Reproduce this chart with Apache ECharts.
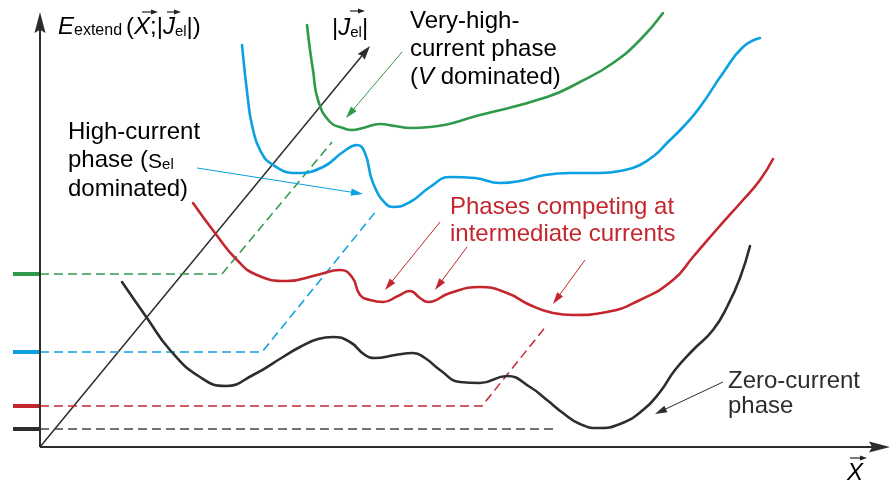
<!DOCTYPE html>
<html><head><meta charset="utf-8">
<script src="https://cdn.jsdelivr.net/npm/echarts@6/dist/echarts.min.js"></script>
<style>html,body{margin:0;padding:0;background:#fff}#c{width:891px;height:484px}</style>
</head><body><div id="c"></div>
<script>
// ---- Data (schematic units: X along the configuration axis, E = energy) ----
const zeroCurrentPhase = [[82,165],[107,129],[130,97],[160,70],[186,61],[213,72],[243,90],[260,100],[278,108],[293,110],[310,105],[325,92],[335,89],[355,92],[373,94],[385,89],[400,77],[420,65],[440,64],[467,71],[490,60],[507,47],[523,34],[540,23],[558,19],[580,23],[603,37],[620,55],[635,77],[653,97],[673,117],[688,142],[700,169],[710,201]];
const competingPhases = [[153,244],[175,214],[197,187],[217,172],[247,166],[277,172],[300,177],[312,170],[320,152],[330,147],[343,145],[358,151],[370,156],[380,149],[388,145],[410,154],[440,160],[467,154],[490,142],[513,134],[533,132],[567,135],[600,147],[633,167],[653,190],[678,219],[703,247],[720,267],[733,288]];
const highCurrentPhase = [[202,402],[208,347],[212,322],[220,297],[233,282],[257,274],[283,280],[303,295],[317,302],[325,294],[333,264],[347,242],[353,240],[370,245],[390,260],[410,270],[435,269],[460,264],[480,266],[505,272],[530,274],[560,274],[585,277],[600,282],[615,292],[627,304],[645,322],[660,340],[683,374],[703,400],[720,409]];
const veryHighCurrentPhase = [[267,422],[270,397],[273,377],[278,347],[290,325],[303,319],[312,317],[323,319],[340,323],[355,321],[370,319],[390,320],[440,332],[507,350],[540,365],[573,384],[600,407],[623,434]];

const greenLevel = [[0,173],[182,173],[292,305]];
const blueLevel  = [[0,95],[222,95],[337,237]];
const redLevel   = [[0,41],[442,41],[507,122]];
const blackLevel = [[0,18],[513,18]];
const levelTicks = { green: [[-27,173],[0,173]], blue: [[-27,95],[0,95]], red: [[-27,41],[0,41]], black: [[-27,18],[0,18]] };

const axisArrows = [[0,0,0,435],[0,0,850,0]];
const currentAxisArrow = [[0,0,330,401]];
const noteArrows = [[362,395,306,329],[157,279,323,253],[400,225,345,157],[427,200,395,157],[545,187,513,143],[683,65,615,33]];
const noteArrowPhase = ['green','blue','red','red','red','black'];

// ---- Styles ----
const C = { green:'#2e9a4a', blue:'#0aa0e2', red:'#c4262e', black:'#2d2d2d' };
const FONT = '"Liberation Sans", Arial, Helvetica, sans-serif';

function arrowRenderer(lw, hl, hw, notch) {
  return function (params, api) {
    const a = api.coord([api.value(0), api.value(1)]);
    const b = api.coord([api.value(2), api.value(3)]);
    const color = api.visual('color');
    const dx = b[0]-a[0], dy = b[1]-a[1], L = Math.hypot(dx, dy);
    const ux = dx/L, uy = dy/L, nx = -uy, ny = ux;
    const bx = b[0]-ux*hl, by = b[1]-uy*hl;
    return { type:'group', children:[
      { type:'line', shape:{x1:a[0], y1:a[1], x2:bx+ux*hl*0.4, y2:by+uy*hl*0.4}, style:{stroke:color, lineWidth:lw} },
      { type:'polygon', shape:{points:[[b[0],b[1]],[bx+nx*hw,by+ny*hw],[bx+ux*hl*notch,by+uy*hl*notch],[bx-nx*hw,by-ny*hw]]}, style:{fill:color} }
    ]};
  };
}

function curve(data, color) {
  return { type:'line', data, smooth:0.5, showSymbol:false, symbol:'none', silent:true,
    lineStyle:{ color, width:2.6, cap:'round' }, z:3 };
}
function dashed(data, color) {
  return { type:'line', data, smooth:false, showSymbol:false, symbol:'none', silent:true,
    lineStyle:{ color, width:1.5, type:[9,5] }, z:2 };
}
function tick(data, color) {
  return { type:'line', data, showSymbol:false, symbol:'none', silent:true,
    lineStyle:{ color, width:4 }, z:2 };
}

function vec(x, y, len) {
  return { type:'group', children:[
    { type:'line', shape:{x1:x, y1:y, x2:x+len-5, y2:y}, style:{stroke:'#222', lineWidth:1.2} },
    { type:'polygon', shape:{points:[[x+len,y],[x+len-7,y-2.6],[x+len-7,y+2.6]]}, style:{fill:'#222'} }
  ]};
}

const n = (col, size, lh) => ({ fontFamily:FONT, fontSize:size, lineHeight:lh, color:col, verticalAlign:'bottom' });
const it = (col, size, lh) => Object.assign(n(col, size, lh), { fontStyle:'italic' });

const chart = echarts.init(document.getElementById('c'), null, { renderer:'canvas' });
chart.setOption({
  animation:false,
  backgroundColor:'#fff',
  grid:{ left:0, right:0, top:0, bottom:0 },
  xAxis:{ type:'value', min:-40, max:851, show:false },
  yAxis:{ type:'value', min:-37, max:447, show:false },
  series:[
    dashed(greenLevel, C.green), dashed(blueLevel, C.blue), dashed(redLevel, C.red), dashed(blackLevel, '#444'),
    tick(levelTicks.green, C.green), tick(levelTicks.blue, C.blue), tick(levelTicks.red, C.red), tick(levelTicks.black, C.black),
    curve(zeroCurrentPhase, C.black), curve(competingPhases, C.red), curve(highCurrentPhase, C.blue), curve(veryHighCurrentPhase, C.green),
    { type:'custom', renderItem:arrowRenderer(2, 21, 5.5, 0.15), data:axisArrows, itemStyle:{color:'#2d2d2d'}, silent:true, z:4 },
    { type:'custom', renderItem:arrowRenderer(1.5, 14, 4.5, 0.1), data:currentAxisArrow, itemStyle:{color:'#2d2d2d'}, silent:true, z:2 },
    { type:'custom', renderItem:arrowRenderer(1, 12, 3.6, 0), silent:true, z:4,
      data: noteArrows.map((v, i) => ({ value:v, itemStyle:{ color:C[noteArrowPhase[i]] } })) }
  ],
  graphic:[
    { type:'text', left:58, top:15, style:{ text:'{E|E}{s|extend}{n|(}{I|X}{n|;|}{I|J}{s2|el}{n||)}',
      rich:{ E:it('#222',24,28), I:it('#222',24,28), n:n('#222',24,28),
             s:Object.assign(n('#222',16,14), { padding:[0,4,0,0] }), s2:n('#222',15,13) } } },
    vec(142, 12, 16), vec(167, 12, 14),
    { type:'text', left:332, top:16.5, style:{ text:'{n||}{I|J}{s|el}{n||}',
      rich:{ I:it('#222',24,28), n:n('#222',24,28), s:n('#222',15,13) } } },
    vec(350, 11, 15),
    { type:'text', left:847, top:461, style:{ text:'{I|X}', rich:{ I:it('#222',24,28) } } },
    vec(850, 458, 17),
    { type:'text', left:410, top:9.5, style:{ text:'{n|Very-high-}\n{n|current phase}\n{n|(}{I|V}{n| dominated)}',
      rich:{ n:n(C.green,24,28), I:it(C.green,24,28) } } },
    { type:'text', left:68, top:120, style:{ text:'{n|High-current}\n{n|phase (}{S|S}{s|el}\n{n|dominated)}',
      rich:{ n:n(C.blue,24,28.5), S:n(C.blue,21,28.5), s:n(C.blue,15,13) } } },
    { type:'text', left:450, top:194, style:{ text:'Phases competing at\nintermediate currents',
      font:'24px ' + FONT, fill:C.red, lineHeight:27 } },
    { type:'text', left:728, top:368.5, style:{ text:'Zero-current\nphase',
      font:'24px ' + FONT, fill:'#2d2d2d', lineHeight:25 } }
  ]
});
</script>
</body></html>
